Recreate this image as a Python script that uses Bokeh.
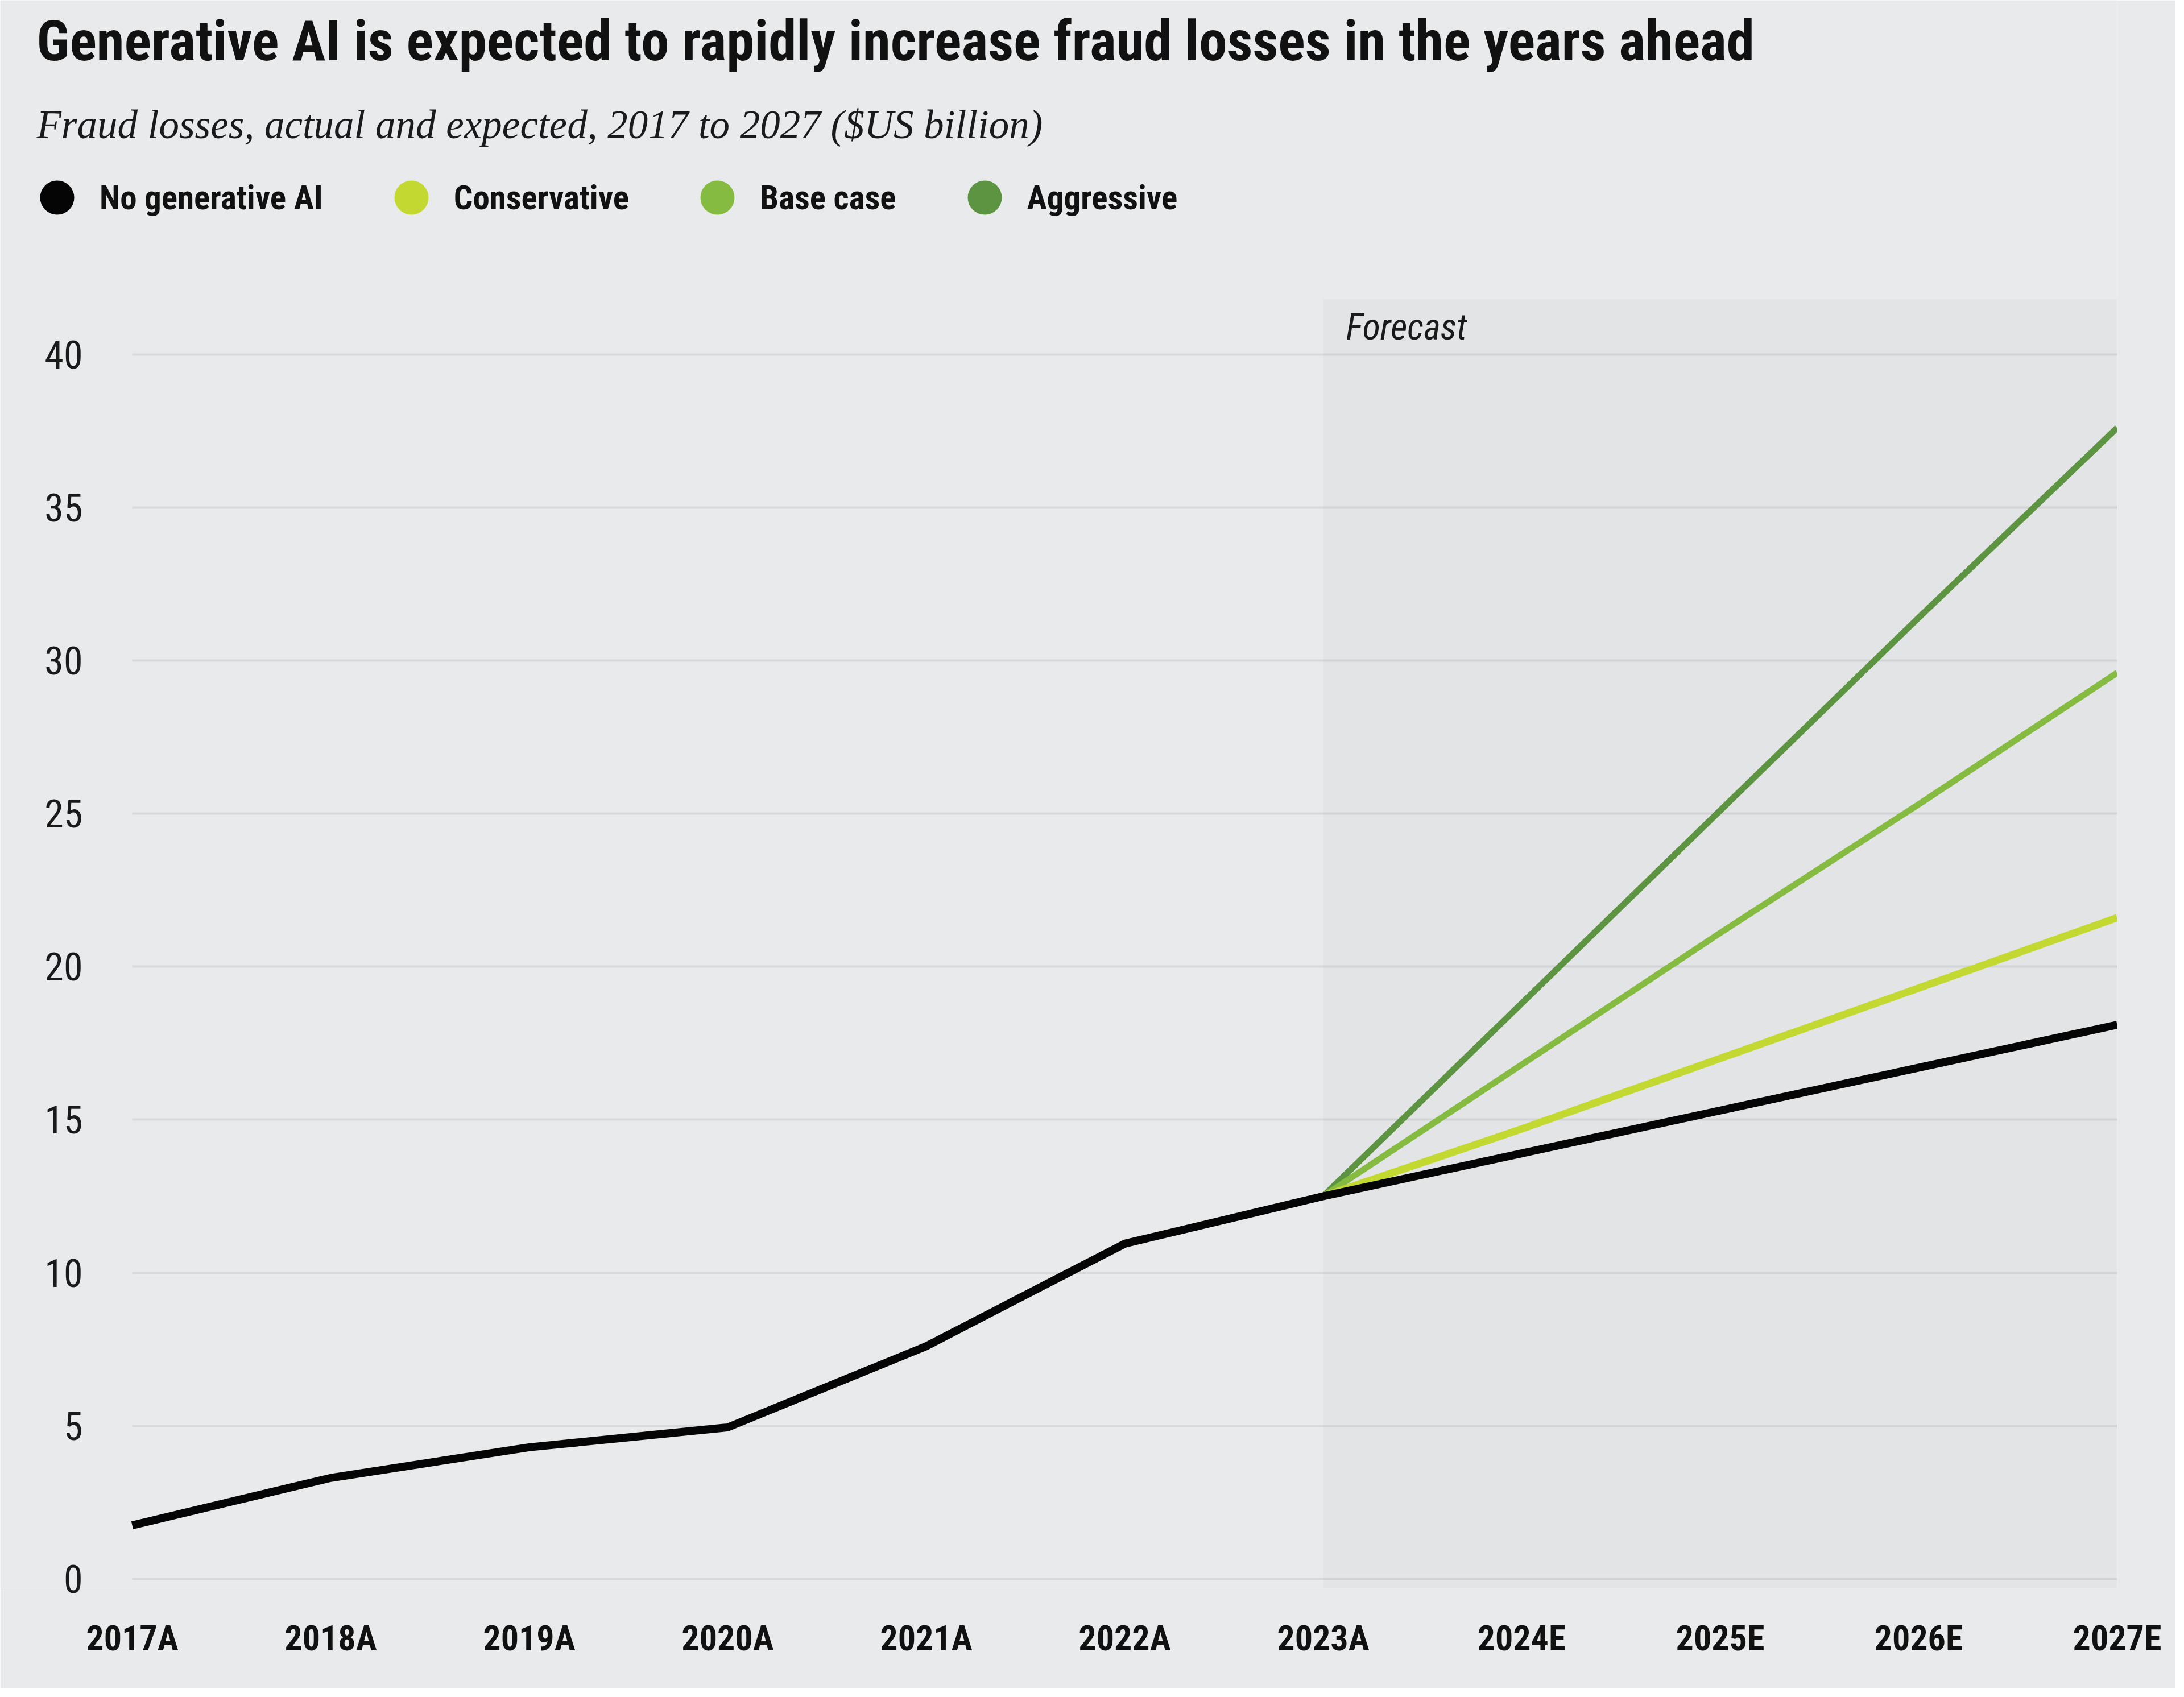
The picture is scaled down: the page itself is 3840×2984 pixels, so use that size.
from bokeh.plotting import figure
from bokeh.models import (Range1d, FixedTicker, Legend, LegendItem, Label, Grid)
from bokeh.core.properties import value
from bokeh.embed import file_html
from bokeh.resources import INLINE

# ---------------- data ----------------
categories = ["2017A", "2018A", "2019A", "2020A", "2021A", "2022A",
              "2023A", "2024E", "2025E", "2026E", "2027E"]
no_gen_ai = [1.75, 3.3, 4.3, 4.95, 7.6, 10.95, 12.5, 13.9, 15.3, 16.7, 18.1]

forecast_years = ["2023A", "2024E", "2025E", "2026E", "2027E"]
conservative = [12.5, 14.7, 17.0, 19.3, 21.6]
base_case = [12.5, 16.8, 21.1, 25.3, 29.6]
aggressive = [12.5, 18.8, 25.1, 31.4, 37.6]

y_ticks = [0, 5, 10, 15, 20, 25, 30, 35, 40]

title_text = "Generative AI is expected to rapidly increase fraud losses in the years ahead"
subtitle_text = "Fraud losses, actual and expected, 2017 to 2027 ($US billion)"
forecast_label = "Forecast"
series_names = ["No generative AI", "Conservative", "Base case", "Aggressive"]
series_colors = ["#050505", "#c3d931", "#85bb40", "#5c9441"]

# ---------------- style / layout ----------------
BG = "#e9eaeb"
COND = "Roboto Condensed"
SERIF = "Liberation Serif"

W, H = 3824, 2968
FRAME_W = 3722                   # frame starts at the canvas' left edge
FRAME_H = 2792                   # frame starts at the canvas' top edge
RIGHT, BOTTOM = W - FRAME_W, H - FRAME_H
PLOT_LEFT_PX = 232               # where the first category sits
X_PX_PER = (FRAME_W - PLOT_LEFT_PX) / (len(categories) - 1)
PX_PER_UNIT = 53.83
Y0 = -0.3
Y_SHADE_TOP = 41.8

idx = {c: i for i, c in enumerate(categories)}
x_all = [idx[c] for c in categories]
x_fc = [idx[c] for c in forecast_years]
x_first, x_last = x_all[0], x_all[-1]

p = figure(width=W, height=H, output_backend="svg", toolbar_location=None,
           x_range=Range1d(x_first - PLOT_LEFT_PX / X_PX_PER, x_last),
           y_range=Range1d(Y0, Y0 + FRAME_H / PX_PER_UNIT),
           min_border_left=0, min_border_right=RIGHT,
           min_border_top=0, min_border_bottom=BOTTOM,
           background_fill_color=BG, border_fill_color=BG,
           outline_line_color=None, title=None)

# forecast shading + label
p.quad(left=[idx["2023A"]], right=[idx["2027E"]], bottom=[Y0], top=[Y_SHADE_TOP],
       fill_color="#000000", fill_alpha=0.022, line_color=None)
p.text(x=[idx["2023A"]], y=[Y_SHADE_TOP], text=[forecast_label], x_offset=40, y_offset=12,
       text_baseline="top", text_align="left", text_font=value(COND),
       text_font_style="italic", text_font_size="64px", text_color="#1a1a1a")

# axes
p.xaxis.ticker = FixedTicker(ticks=x_all)
p.xaxis.major_label_overrides = {i: c for i, c in enumerate(categories)}
p.xaxis.major_label_text_font = COND
p.xaxis.major_label_text_font_style = "bold"
p.xaxis.major_label_text_font_size = "62px"
p.xaxis.major_label_text_color = "#111111"
p.xaxis.major_label_standoff = 45
p.xaxis.axis_line_color = None
p.xaxis.major_tick_line_color = None
p.xaxis.minor_tick_line_color = None

p.yaxis.ticker = FixedTicker(ticks=y_ticks)
p.yaxis.major_label_text_font = COND
p.yaxis.major_label_text_font_size = "68px"
p.yaxis.major_label_text_color = "#1a1a1a"
p.yaxis.major_label_standoff = -145
p.yaxis.axis_line_color = None
p.yaxis.major_tick_line_color = None
p.yaxis.major_tick_out = 0
p.yaxis.minor_tick_line_color = None

p.xgrid.grid_line_color = None
p.ygrid.grid_line_color = "#d8d9db"
p.ygrid.grid_line_width = 4
if "cross_bounds" in Grid.properties():
    p.ygrid.cross_bounds = (x_first, x_last)
else:
    p.ygrid.visible = False
    p.segment(x0=[x_first] * len(y_ticks), x1=[x_last] * len(y_ticks),
              y0=y_ticks, y1=y_ticks, line_color="#d8d9db", line_width=4)

# series
p.line(x_fc, aggressive, line_color=series_colors[3], line_width=11, line_join="round")
p.line(x_fc, base_case, line_color=series_colors[2], line_width=11, line_join="round")
p.line(x_fc, conservative, line_color=series_colors[1], line_width=13, line_join="round")
p.line(x_all, no_gen_ai, line_color=series_colors[0], line_width=14, line_join="round")

# legend with circle markers (the marker renderers carry no visible points)
items = []
for name, col in zip(series_names, series_colors):
    r = p.scatter(x=[float("nan")], y=[float("nan")], marker="circle",
                  fill_color=col, line_color=None)
    items.append(LegendItem(label=name, renderers=[r]))
legend = Legend(items=items, orientation="horizontal",
                location=(25, FRAME_H - 347 - 75),
                glyph_width=150, glyph_height=150, label_standoff=-27,
                spacing=80, padding=0, margin=0,
                border_line_color=None, background_fill_alpha=0,
                label_text_font=COND, label_text_font_style="bold",
                label_text_font_size="59px", label_text_color="#111111")
p.add_layout(legend)

# title & subtitle
p.add_layout(Label(x=64, y=FRAME_H - 71, x_units="screen", y_units="screen",
                   text=title_text, text_font=COND, text_font_style="bold",
                   text_font_size="99px", text_color="#111111",
                   text_baseline="middle", text_align="left"))
p.add_layout(Label(x=64, y=FRAME_H - 218, x_units="screen", y_units="screen",
                   text=subtitle_text, text_font=SERIF, text_font_style="italic",
                   text_font_size="71px", text_color="#1a1a1a",
                   text_baseline="middle", text_align="left"))

open("out.html", "w").write(file_html(p, INLINE))
